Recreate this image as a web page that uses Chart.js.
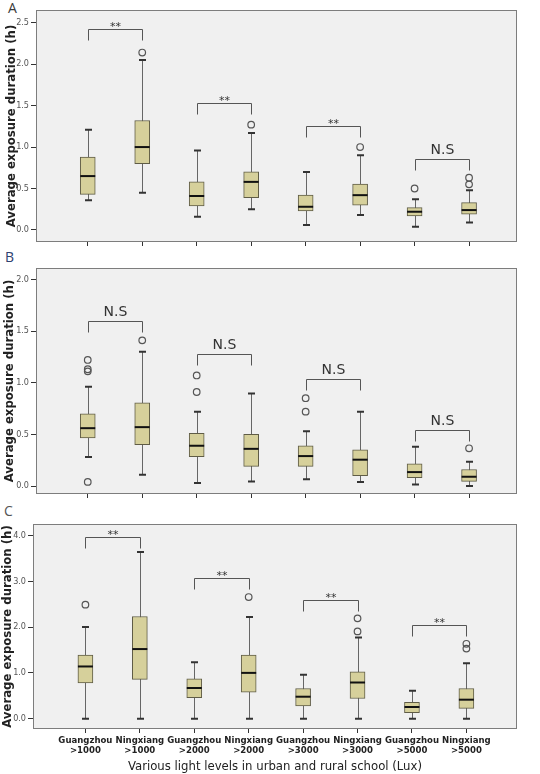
<!DOCTYPE html>
<html>
<head>
<meta charset="utf-8">
<script src="https://cdn.jsdelivr.net/npm/chart.js@4.4.1/dist/chart.umd.min.js"></script>
<style>
	body { margin: 0; background: #fff; width: 540px; height: 774px; position: relative; overflow: hidden; }
	canvas { position: absolute; left: 0; }
	.tag { position: absolute; font: 14px "Open Sans", sans-serif; line-height: 14px; }
</style>
</head>
<body>
<div class="tag" style="left:8px;top:1px;color:#3a3a3a">A</div>
<div class="tag" style="left:5px;top:250px;color:#2f4170">B</div>
<div class="tag" style="left:4px;top:504px;color:#555">C</div>
<canvas id="chart-a" width="540" height="255" style="top:0"></canvas>
<canvas id="chart-b" width="540" height="252" style="top:255px"></canvas>
<canvas id="chart-c" width="540" height="267" style="top:507px"></canvas>
<script>
// Box plots of exposure duration by school and light level (panels A, B, C)
const xLabels = [
	["Guangzhou", ">1000"], ["Ningxiang", ">1000"],
	["Guangzhou", ">2000"], ["Ningxiang", ">2000"],
	["Guangzhou", ">3000"], ["Ningxiang", ">3000"],
	["Guangzhou", ">5000"], ["Ningxiang", ">5000"],
];

// Panel A
const aLow = [0.36, 0.45, 0.16, 0.25, 0.06, 0.18, 0.04, 0.09];
const aQ1 = [0.43, 0.80, 0.29, 0.39, 0.23, 0.30, 0.17, 0.19];
const aMed = [0.65, 1.00, 0.41, 0.58, 0.28, 0.42, 0.22, 0.24];
const aQ3 = [0.88, 1.32, 0.58, 0.70, 0.42, 0.555, 0.27, 0.33];
const aHigh = [1.21, 2.05, 0.96, 1.17, 0.70, 0.90, 0.37, 0.48];
const aOut = [[], [2.14], [], [1.27], [], [1.00], [0.50], [0.55, 0.63]];
const aTicks = [0, 0.5, 1.0, 1.5, 2.0, 2.5];
const aSigTop = [2.42, 1.53, 1.26, 0.85];
const aSigText = ["**", "**", "**", "N.S"];

// Panel B
const bLow = [0.28, 0.11, 0.03, 0.045, 0.065, 0.04, 0.015, 0.0];
const bQ1 = [0.465, 0.40, 0.285, 0.19, 0.19, 0.10, 0.08, 0.045];
const bMed = [0.56, 0.57, 0.39, 0.36, 0.29, 0.255, 0.135, 0.09];
const bQ3 = [0.70, 0.805, 0.51, 0.50, 0.39, 0.35, 0.215, 0.16];
const bHigh = [0.96, 1.30, 0.72, 0.895, 0.53, 0.72, 0.38, 0.235];
const bOut = [[1.22, 1.13, 1.11, 0.04], [1.41], [1.07, 0.91], [], [0.85, 0.72], [], [], [0.365]];
const bTicks = [0, 0.5, 1.0, 1.5, 2.0];
const bSigTop = [1.60, 1.275, 1.04, 0.545];
const bSigText = ["N.S", "N.S", "N.S", "N.S"];

// Panel C
const cLow = [0, 0, 0, 0, 0, 0, 0, 0];
const cQ1 = [0.78, 0.86, 0.46, 0.58, 0.28, 0.44, 0.13, 0.225];
const cMed = [1.14, 1.52, 0.67, 1.00, 0.48, 0.79, 0.255, 0.415];
const cQ3 = [1.39, 2.23, 0.87, 1.39, 0.66, 1.025, 0.355, 0.66];
const cHigh = [2.0, 3.64, 1.23, 2.22, 0.96, 1.775, 0.61, 1.21];
const cOut = [[2.49], [], [], [2.655], [], [2.19, 1.905], [], [1.635, 1.53]];
const cTicks = [0, 1.0, 2.0, 3.0, 4.0];
const cSigTop = [3.96, 3.07, 2.60, 2.035];
const cSigText = ["**", "**", "**", "**"];

const FONT = '"DejaVu Sans Condensed", "DejaVu Sans", sans-serif';
const BOX_FILL = "#d6d09b";
const BOX_EDGE = "#5f5c46";

const boxPlugin = {
	id: "boxes",
	beforeDraw(chart) {
		const { ctx, chartArea: a } = chart;
		ctx.save();
		ctx.fillStyle = "#f0f0f0";
		ctx.fillRect(a.left, a.top, a.width, a.height);
		ctx.restore();
	},
	beforeDatasetsDraw(chart, args, p) {
		const { ctx } = chart;
		const xs = chart.scales.x, ys = chart.scales.y;
		ctx.save();
		p.low.forEach((lo, i) => {
			const x = Math.round(xs.getPixelForValue(i)) + 0.5;
			const yl = ys.getPixelForValue(lo), yh = ys.getPixelForValue(p.high[i]);
			ctx.strokeStyle = "#666";
			ctx.lineWidth = 1;
			ctx.beginPath();
			ctx.moveTo(x, yl);
			ctx.lineTo(x, yh);
			ctx.stroke();
			ctx.strokeStyle = "#333";
			ctx.lineWidth = 2;
			ctx.beginPath();
			ctx.moveTo(x - 3.5, yl);
			ctx.lineTo(x + 3.5, yl);
			ctx.moveTo(x - 3.5, yh);
			ctx.lineTo(x + 3.5, yh);
			ctx.stroke();
		});
		ctx.restore();
	},
	afterDatasetsDraw(chart, args, p) {
		const { ctx, chartArea: a } = chart;
		const xs = chart.scales.x, ys = chart.scales.y;
		ctx.save();
		// medians
		ctx.strokeStyle = "#111";
		ctx.lineWidth = 2;
		p.med.forEach((m, i) => {
			const x = xs.getPixelForValue(i);
			const y = ys.getPixelForValue(m);
			ctx.beginPath();
			ctx.moveTo(x - 7.5, y);
			ctx.lineTo(x + 7.5, y);
			ctx.stroke();
		});
		// significance brackets
		ctx.strokeStyle = "#555";
		ctx.lineWidth = 1;
		ctx.fillStyle = "#333";
		ctx.textAlign = "center";
		ctx.textBaseline = "alphabetic";
		p.sigTop.forEach((top, k) => {
			const x1 = Math.round(xs.getPixelForValue(2 * k)) + 0.5;
			const x2 = Math.round(xs.getPixelForValue(2 * k + 1)) + 0.5;
			const y = Math.round(ys.getPixelForValue(top)) + 0.5;
			ctx.beginPath();
			ctx.moveTo(x1, y + 11);
			ctx.lineTo(x1, y);
			ctx.lineTo(x2, y);
			ctx.lineTo(x2, y + 11);
			ctx.stroke();
			const txt = p.sigText[k];
			if (txt === "**") {
				ctx.font = '11px "DejaVu Sans", sans-serif';
				ctx.fillText(txt, (x1 + x2) / 2, y + 0.5);
			} else {
				ctx.font = '14px "DejaVu Sans", sans-serif';
				ctx.fillText(txt, (x1 + x2) / 2, y - 6);
			}
		});
		// frame
		ctx.strokeStyle = "#7d7d7d";
		ctx.strokeRect(Math.round(a.left) + 0.5, Math.round(a.top) + 0.5, Math.round(a.width) - 1, Math.round(a.height) - 1);
		ctx.restore();
	},
};

function makeChart(id, p) {
	return new Chart(document.getElementById(id), {
		type: "bar",
		data: {
			datasets: [
				{
					type: "bar",
					data: p.q1.map((v, i) => ({ x: i, y: [v, p.q3[i]] })),
					barThickness: 15,
					backgroundColor: BOX_FILL,
					borderColor: BOX_EDGE,
					borderWidth: 1,
					borderSkipped: false,
				},
				{
					type: "scatter",
					data: p.out.flatMap((vals, i) => vals.map((v) => ({ x: i, y: v }))),
					pointStyle: "circle",
					pointRadius: 3.3,
					pointBackgroundColor: "rgba(0,0,0,0)",
					pointBorderColor: "#555",
					pointBorderWidth: 1.2,
				},
			],
		},
		options: {
			responsive: false,
			animation: false,
			events: [],
			layout: { padding: { top: p.padTop, right: 23, bottom: 0, left: 0 } },
			plugins: {
				legend: { display: false },
				tooltip: { enabled: false },
				boxes: p,
			},
			scales: {
				x: {
					type: "linear",
					min: p.xMin,
					max: p.xMax,
					offset: false,
					afterBuildTicks: (s) => { s.ticks = xLabels.map((_, i) => ({ value: i })); },
					afterFit: (s) => { s.height = p.xAxisH; },
					grid: { display: true, offset: false, drawOnChartArea: false, drawTicks: true, tickLength: 4, tickColor: "#333", tickWidth: 1 },
					border: { display: false },
					ticks: {
						autoSkip: false,
						maxRotation: 0,
						padding: 3,
						color: "#222",
						font: { family: FONT, size: 9.5, weight: "bold", lineHeight: 1.0 },
						callback: (v) => (p.showX ? xLabels[Math.round(v)] : ""),
					},
					title: {
						display: p.showX,
						text: "Various light levels in urban and rural school (Lux)",
						color: "#222",
						font: { family: FONT, size: 13 },
						padding: { top: 0, bottom: 0 },
					},
				},
				y: {
					min: p.yMin,
					max: p.yMax,
					afterBuildTicks: (s) => { s.ticks = p.ticks.map((v) => ({ value: v })); },
					afterFit: (s) => { s.width = p.yAxisW; },
					grid: { display: true, drawOnChartArea: false, drawTicks: true, tickLength: 5, tickColor: "#333", tickWidth: 1 },
					border: { display: false },
					ticks: {
						padding: 2,
						color: "#555",
						font: { family: FONT, size: 9 },
						callback: (v) => v.toFixed(1),
					},
					title: {
						display: true,
						text: "Average exposure duration (h)",
						color: "#222",
						font: { family: FONT, size: 13, weight: "bold" },
						padding: { top: p.titlePad, bottom: 0 },
					},
				},
			},
		},
		plugins: [boxPlugin],
	});
}

makeChart("chart-a", {
	low: aLow, q1: aQ1, med: aMed, q3: aQ3, high: aHigh, out: aOut, ticks: aTicks,
	sigTop: aSigTop, sigText: aSigText,
	yMin: -0.145, yMax: 2.653, xMin: -0.95, xMax: 7.88,
	padTop: 10, xAxisH: 13, yAxisW: 36, titlePad: 4, showX: false,
});
makeChart("chart-b", {
	low: bLow, q1: bQ1, med: bMed, q3: bQ3, high: bHigh, out: bOut, ticks: bTicks,
	sigTop: bSigTop, sigText: bSigText,
	yMin: -0.077, yMax: 2.11, xMin: -0.95, xMax: 7.88,
	padTop: 13, xAxisH: 13, yAxisW: 36, titlePad: 2, showX: false,
});
makeChart("chart-c", {
	low: cLow, q1: cQ1, med: cMed, q3: cQ3, high: cHigh, out: cOut, ticks: cTicks,
	sigTop: cSigTop, sigText: cSigText,
	yMin: -0.225, yMax: 4.25, xMin: -0.963, xMax: 7.93,
	padTop: 17, xAxisH: 45, yAxisW: 33, titlePad: 0, showX: true,
});
</script>
</body>
</html>
